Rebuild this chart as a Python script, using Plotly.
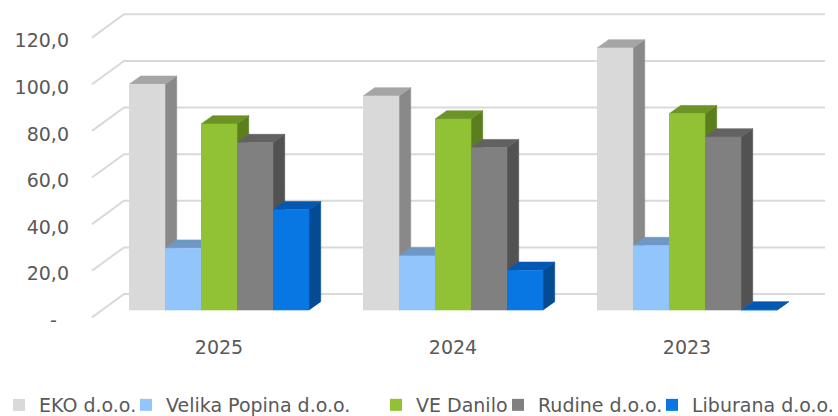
import plotly.graph_objects as go

# ---------------- data ----------------
categories = ["2025", "2024", "2023"]
series_names = ["EKO d.o.o.", "Velika Popina d.o.o.", "VE Danilo", "Rudine d.o.o.", "Liburana d.o.o."]
eko = [96.8, 91.8, 112.4]
velika_popina = [26.5, 23.2, 27.6]
ve_danilo = [79.8, 81.9, 84.2]
rudine = [71.8, 69.6, 74.2]
liburana = [43.0, 17.0, 0.0]
y_ticks = [0, 20, 40, 60, 80, 100, 120]
y_tick_labels = ["-\u00a0\u00a0", "20,0", "40,0", "60,0", "80,0", "100,0", "120,0"]

series_values = [eko, velika_popina, ve_danilo, rudine, liburana]

# ---------------- styles ----------------
front_colors = ["#D9D9D9", "#92C5FB", "#91C134", "#808080", "#0877E3"]
top_colors = ["#A5A5A5", "#6D98C4", "#6B9326", "#626262", "#0558B2"]
side_colors = ["#898989", "#5F86AE", "#5B7E1F", "#525252", "#044B93"]
grid_color = "#D9D9D9"
text_color = "#595959"
FONT = "DejaVu Sans"

W = 838
H = 416
ML, MR, MT, MB = 70, 0, 5, 86
PX_X = 234.0      # pixels per category
PX_Y = 2.331      # pixels per value unit
X0_PX = 219.0     # pixel of first category centre
Y0_PX = 310.0     # pixel of value 0 at the bar fronts

BAR_W = 36.0 / PX_X
GROUP_LEFT = -90.0 / PX_X
DX = 11.7 / PX_X
DY = 8.3 / PX_Y
BACK_DY = 16.0 / PX_Y
FRONT_DY = -7.4 / PX_Y
LABEL_DY = -3.0 / PX_Y
BACK_LEFT = (124 - X0_PX) / PX_X
FRONT_LEFT = (92 - X0_PX) / PX_X
BACK_RIGHT = (825 - X0_PX) / PX_X

x_range = [(ML - X0_PX) / PX_X, (W - MR - X0_PX) / PX_X]
y_range = [-(H - MB - Y0_PX) / PX_Y, (Y0_PX - MT) / PX_Y]

fig = go.Figure()

# gridlines: back wall + left diagonal
gx, gy = [], []
for v in y_ticks:
    gx += [FRONT_LEFT, BACK_LEFT, BACK_RIGHT, None]
    gy += [v + FRONT_DY, v + BACK_DY, v + BACK_DY, None]
fig.add_trace(go.Scatter(x=gx, y=gy, mode="lines", line=dict(color=grid_color, width=2),
                         hoverinfo="skip", showlegend=False))


def poly(xs, ys, color):
    return go.Scatter(x=xs, y=ys, mode="lines", fill="toself", fillcolor=color,
                      line=dict(color=color, width=0.6), hoverinfo="skip", showlegend=False)


for k, vals in enumerate(series_values):
    fx, fy, sx, sy, tx, ty = [], [], [], [], [], []
    for i, v in enumerate(vals):
        x0 = i + GROUP_LEFT + k * BAR_W
        x1 = x0 + BAR_W
        fx += [x0, x1, x1, x0, None]
        fy += [0, 0, v, v, None]
        sx += [x1, x1 + DX, x1 + DX, x1, None]
        sy += [0, DY, v + DY, v, None]
        tx += [x0, x0 + DX, x1 + DX, x1, None]
        ty += [v, v + DY, v + DY, v, None]
    fig.add_trace(poly(sx, sy, side_colors[k]))
    fig.add_trace(poly(tx, ty, top_colors[k]))
    fig.add_trace(poly(fx, fy, front_colors[k]))

# legend entries (one legend per entry to match spacing)
text_starts = [39, 166, 416, 538, 692]
legend_y = (H - MB - 405) / (H - MT - MB)
plot_w = W - ML - MR
legend_layouts = {}
for k, name in enumerate(series_names):
    lid = "legend" if k == 0 else f"legend{k + 1}"
    fig.add_trace(go.Scatter(x=[None], y=[None], name=name, mode="markers",
                             marker=dict(symbol="square", size=12, color=front_colors[k],
                                         line=dict(width=0)),
                             legend=lid, showlegend=True, hoverinfo="skip"))
    legend_layouts[lid] = dict(
        x=(text_starts[k] - 40 - ML) / plot_w, y=legend_y, xanchor="left", yanchor="middle",
        orientation="h", bgcolor="rgba(0,0,0,0)", borderwidth=0,
        font=dict(family=FONT, size=19, color=text_color),
    )

fig.update_layout(
    width=W, height=H,
    margin=dict(l=ML, r=MR, t=MT, b=MB, pad=0, autoexpand=False),
    paper_bgcolor="white", plot_bgcolor="white",
    showlegend=True,
    xaxis=dict(range=x_range, tickvals=[0, 1, 2], ticktext=categories, showgrid=False,
               zeroline=False, showline=False, ticks="", fixedrange=True, ticklabelstandoff=4,
               tickfont=dict(family=FONT, size=19, color=text_color)),
    yaxis=dict(range=y_range, tickvals=[v + FRONT_DY + LABEL_DY for v in y_ticks],
               ticktext=y_tick_labels,
               showgrid=False, zeroline=False, showline=False, ticks="", fixedrange=True,
               tickfont=dict(family=FONT, size=19, color=text_color)),
    **legend_layouts,
)

fig.write_html("out.html", config={"displayModeBar": False},
               post_script="document.body.style.margin='0';document.body.style.overflow='hidden';")
